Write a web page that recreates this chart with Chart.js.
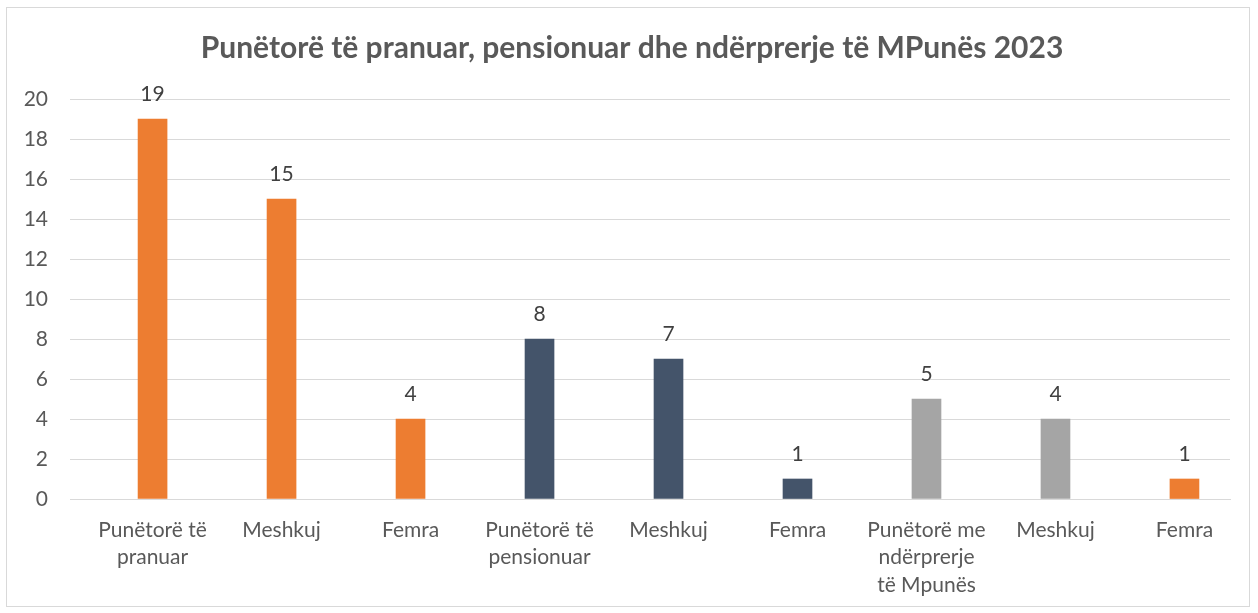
<!DOCTYPE html>
<html>
<head>
<meta charset="utf-8">
<script src="https://cdn.jsdelivr.net/npm/chart.js@4"></script>
<style>
  html, body { margin: 0; padding: 0; background: #fff; }
  #frame { position: absolute; left: 6px; top: 7px; width: 1244px; height: 600px; border: 1px solid #d9d9d9; box-sizing: border-box; }
  #wrap { position: absolute; left: 0; top: 0; width: 1258px; height: 613px; }
</style>
</head>
<body>
<div id="frame"></div>
<div id="wrap"><canvas id="chart"></canvas></div>
<script>
// data
const categories = [
  ['Punëtorë të', 'pranuar'], 'Meshkuj', 'Femra',
  ['Punëtorë të', 'pensionuar'], 'Meshkuj', 'Femra',
  ['Punëtorë me', 'ndërprerje', 'të Mpunës'], 'Meshkuj', 'Femra'
];
const values = [19, 15, 4, 8, 7, 1, 5, 4, 1];
const barColors = ['#ED7D31', '#ED7D31', '#ED7D31', '#44546A', '#44546A', '#44546A', '#A5A5A5', '#A5A5A5', '#ED7D31'];
const yTicks = [0, 2, 4, 6, 8, 10, 12, 14, 16, 18, 20];
const title = 'Punëtorë të pranuar, pensionuar dhe ndërprerje të MPunës 2023';

const FONT = 'Lato, "Open Sans", sans-serif';

const valueLabels = {
  id: 'valueLabels',
  afterDatasetsDraw(chart) {
    const ctx = chart.ctx;
    const meta = chart.getDatasetMeta(0);
    ctx.save();
    ctx.font = '21px ' + FONT;
    ctx.fillStyle = '#404040';
    ctx.textAlign = 'center';
    ctx.textBaseline = 'alphabetic';
    meta.data.forEach((bar, i) => {
      ctx.fillText(String(values[i]), bar.x, bar.y - 18);
    });
    ctx.restore();
  }
};

// title in the reference sits a bit right of the canvas centre
const titleShift = {
  id: 'titleShift',
  afterLayout(chart) {
    if (chart.titleBlock) chart.titleBlock.left += 34;
  }
};

new Chart(document.getElementById('chart'), {
  type: 'bar',
  data: {
    datasets: [{
      data: values.map((v, i) => ({ x: i, y: v })),
      backgroundColor: barColors,
      barThickness: 29
    }]
  },
  options: {
    responsive: true,
    maintainAspectRatio: false,
    animation: false,
    layout: { padding: { left: 0, right: 28, top: 0, bottom: 0 } },
    plugins: {
      legend: { display: false },
      tooltip: { enabled: false },
      title: {
        display: true,
        text: title,
        color: '#595959',
        font: { family: FONT, size: 30, weight: 'bold', lineHeight: 1.2 },
        padding: { top: 30, bottom: 33 }
      }
    },
    scales: {
      x: {
        type: 'linear',
        offset: false,
        min: -0.64,
        max: 8.353,
        afterBuildTicks: s => { s.ticks = categories.map((_, i) => ({ value: i })); },
        afterFit: s => { s.height = 114; },
        ticks: {
          autoSkip: false,
          maxRotation: 0,
          padding: 17,
          color: '#595959',
          font: { family: FONT, size: 21, lineHeight: 1.32 },
          callback: v => categories[v]
        },
        grid: { display: false, drawTicks: false },
        border: { display: true, color: '#d9d9d9', width: 1 }
      },
      y: {
        min: 0,
        max: 20,
        afterBuildTicks: s => { s.ticks = yTicks.map(v => ({ value: v })); },
        afterFit: s => { s.width = 70; },
        ticks: {
          padding: 22,
          color: '#595959',
          font: { family: FONT, size: 21 }
        },
        grid: { color: '#d9d9d9', drawTicks: false },
        border: { display: false }
      }
    }
  },
  plugins: [valueLabels, titleShift]
});
</script>
</body>
</html>
